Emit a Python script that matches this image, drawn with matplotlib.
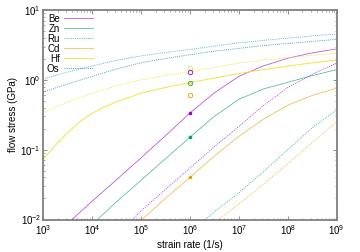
import numpy as np
import matplotlib
matplotlib.use("Agg")
import matplotlib.pyplot as plt

plt.rcParams['font.family'] = ['Liberation Sans', 'DejaVu Sans']
plt.rcParams['mathtext.fontset'] = 'custom'
plt.rcParams['mathtext.rm'] = 'Liberation Sans'

# half-decade strain rate grid (1/s)
rate_grid = [1e3, 3.16e3, 1e4, 3.16e4, 1e5, 3.16e5, 1e6, 3.16e6, 1e7, 3.16e7, 1e8, 3.16e8, 1e9]

# solid curves
be_rate = [3.9e3, 1e4, 3.16e4, 1e5, 3.16e5, 1e6, 3.16e6, 1e7, 3.16e7, 1e8, 3.16e8, 1e9]
be_stress = [0.010, 0.0182, 0.037, 0.076, 0.158, 0.334, 0.65, 1.12, 1.58, 2.04, 2.43, 2.77]

zn_rate = [1.3e4, 3.16e4, 1e5, 3.16e5, 1e6, 3.16e6, 1e7, 3.16e7, 1e8, 3.16e8, 1e9]
zn_stress = [0.010, 0.0179, 0.0363, 0.074, 0.150, 0.30, 0.525, 0.74, 0.92, 1.15, 1.40]

cd_rate = [1.05e5, 3.16e5, 1e6, 3.16e6, 1e7, 3.16e7, 1e8, 3.16e8, 1e9]
cd_stress = [0.010, 0.020, 0.0398, 0.081, 0.155, 0.272, 0.434, 0.597, 0.76]

hf_rate = [1e3, 1.78e3, 3.16e3, 5.62e3, 1e4, 1.78e4, 3.16e4, 1e5, 3.16e5, 1e6,
           3.16e6, 1e7, 3.16e7, 1e8, 3.16e8, 1e9]
hf_stress = [0.072, 0.115, 0.174, 0.251, 0.331, 0.407, 0.484, 0.646, 0.776, 0.912,
             1.06, 1.23, 1.40, 1.57, 1.75, 1.93]

# dotted curves
ru_stress = [1.02, 1.29, 1.58, 1.90, 2.20, 2.46, 2.72, 3.05, 3.39, 3.67, 3.95, 4.25, 4.54]
os_stress = [0.667, 0.871, 1.12, 1.43, 1.75, 2.02, 2.29, 2.57, 2.82, 3.09, 3.31, 3.55, 3.80]
hf_dot_stress = [0.334, 0.479, 0.641, 0.822, 1.0, 1.15, 1.31, 1.51, 1.74, 1.91, 2.07, 2.24, 2.40]

be_dot_rate = [6.8e4, 1e5, 3.16e5, 1e6, 3.16e6, 1e7, 3.16e7, 1e8, 3.16e8, 1e9]
be_dot_stress = [0.010, 0.0132, 0.0269, 0.0543, 0.110, 0.214, 0.427, 0.776, 1.20, 1.73]

zn_dot_rate = [2.1e6, 3.16e6, 1e7, 3.16e7, 1e8, 3.16e8, 1e9]
zn_dot_stress = [0.010, 0.0129, 0.0241, 0.048, 0.100, 0.205, 0.372]

cd_dot_rate = [3.9e6, 1e7, 3.16e7, 1e8, 3.16e8, 1e9]
cd_dot_stress = [0.010, 0.0167, 0.0318, 0.063, 0.126, 0.25]

# points at 1e6 1/s
pt_rate = 1e6
filled_stress = {'Be': 0.334, 'Zn': 0.151, 'Cd': 0.0407, 'Hf': 0.906}
open_stress = {'Hf': 1.46, 'Be': 1.30, 'Zn': 0.906, 'Cd': 0.607}

x_ticks = [1e3, 1e4, 1e5, 1e6, 1e7, 1e8, 1e9]
y_ticks = [1e-2, 1e-1, 1e0, 1e1]

colors = {'Be': '#9400d3', 'Zn': '#009e73', 'Ru': '#56b4e9',
          'Cd': '#e69f00', 'Hf': '#f0e442', 'Os': '#0072b2'}
dot = (0, (1, 1.2))
lw = 0.55
alpha = 0.7
dlw = 0.7

fig = plt.figure(figsize=(3.6, 2.52), dpi=100)
ax = fig.add_axes([43 / 360, 1 - 219.5 / 252, (336.7 - 43) / 360, (219.5 - 10) / 252])

ax.plot(be_rate, be_stress, color=colors['Be'], lw=lw, alpha=alpha, label='Be')
ax.plot(zn_rate, zn_stress, color=colors['Zn'], lw=lw, alpha=alpha, label='Zn')
ax.plot(rate_grid, ru_stress, color=colors['Ru'], lw=dlw, ls=dot, label='Ru')
ax.plot(cd_rate, cd_stress, color=colors['Cd'], lw=lw, alpha=alpha, label='Cd')
ax.plot(hf_rate, hf_stress, color=colors['Hf'], lw=lw + 0.15, label='Hf')
ax.plot(rate_grid, os_stress, color=colors['Os'], lw=dlw, ls=dot, alpha=alpha, label='Os')

ax.plot(rate_grid, hf_dot_stress, color=colors['Hf'], lw=dlw, ls=dot)
ax.plot(be_dot_rate, be_dot_stress, color=colors['Be'], lw=dlw, ls=dot, alpha=alpha)
ax.plot(zn_dot_rate, zn_dot_stress, color=colors['Zn'], lw=dlw, ls=dot, alpha=alpha)
ax.plot(cd_dot_rate, cd_dot_stress, color=colors['Cd'], lw=dlw, ls=dot, alpha=alpha)

for el, v in open_stress.items():
    ax.plot([pt_rate], [v], 'o', ms=3.2, mfc='none', mec=colors[el], mew=0.6)
for el, v in filled_stress.items():
    ax.plot([pt_rate], [v], 'o', ms=2.6, color=colors[el], mew=0)

ax.set_xscale('log')
ax.set_yscale('log')
ax.set_xticks(x_ticks)
ax.set_yticks(y_ticks)
ax.set_xlim(1e3, 1e9)
ax.set_ylim(1e-2, 1e1)

ax.set_xlabel('strain rate (1/s)', fontsize=7, labelpad=1.5)
ax.set_ylabel('flow stress (GPa)', fontsize=7, labelpad=1.5)

frame = '#808080'
for s in ax.spines.values():
    s.set_color(frame)
    s.set_linewidth(1.3)
ax.tick_params(which='both', direction='in', top=True, right=True, colors=frame,
               labelcolor='black', labelsize=7)
ax.tick_params(which='major', length=3, width=0.6)
ax.tick_params(which='minor', length=1.6, width=0.5)
ax.tick_params(axis='x', pad=3)
ax.tick_params(axis='y', pad=1.5)
ax.xaxis.set_minor_locator(matplotlib.ticker.LogLocator(base=10, subs=np.arange(2, 10), numticks=20))
ax.yaxis.set_minor_locator(matplotlib.ticker.LogLocator(base=10, subs=np.arange(2, 10), numticks=20))
ax.xaxis.set_minor_formatter(matplotlib.ticker.NullFormatter())
ax.yaxis.set_minor_formatter(matplotlib.ticker.NullFormatter())

ax.legend(loc='upper left', bbox_to_anchor=(0.0, 1.0), frameon=False, fontsize=7,
          markerfirst=False, handlelength=2.9, handletextpad=0.5, labelspacing=0.0,
          borderaxespad=0.2, borderpad=0.2)

fig.savefig('out.png', dpi=100)
